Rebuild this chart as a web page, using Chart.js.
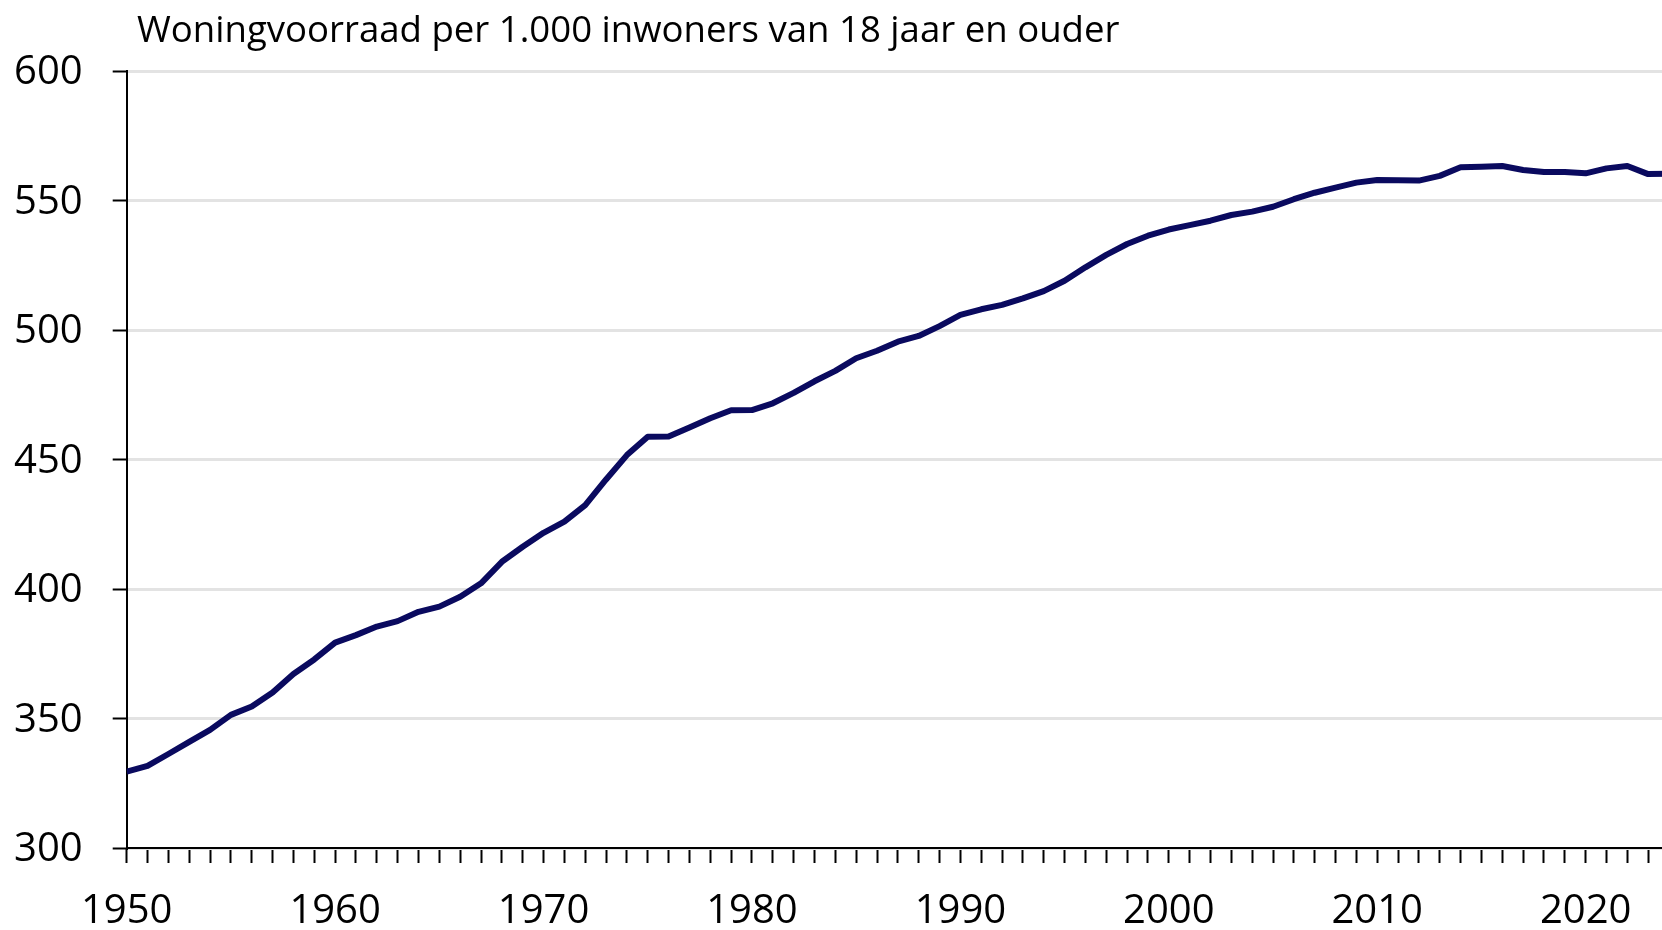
<!DOCTYPE html>
<html>
<head>
<meta charset="utf-8">
<script src="https://cdn.jsdelivr.net/npm/chart.js@4"></script>
<style>
  html, body { margin: 0; padding: 0; background: #fff; overflow: hidden; width: 1662px; height: 930px; }
  #wrap { position: absolute; left: 0; top: 0; width: 1698px; height: 930px; }
  #title { position: absolute; left: 137px; top: 10px; font-family: "Open Sans", sans-serif; font-size: 36.6px; line-height: 36px; color: #000; white-space: nowrap; z-index: 2; }
</style>
</head>
<body>
<div id="title">Woningvoorraad per 1.000 inwoners van 18 jaar en ouder</div>
<div id="wrap"><canvas id="c" width="1698" height="930" style="width:1698px;height:930px"></canvas></div>
<script>
const years = [1950,1951,1952,1953,1954,1955,1956,1957,1958,1959,
               1960,1961,1962,1963,1964,1965,1966,1967,1968,1969,
               1970,1971,1972,1973,1974,1975,1976,1977,1978,1979,
               1980,1981,1982,1983,1984,1985,1986,1987,1988,1989,
               1990,1991,1992,1993,1994,1995,1996,1997,1998,1999,
               2000,2001,2002,2003,2004,2005,2006,2007,2008,2009,
               2010,2011,2012,2013,2014,2015,2016,2017,2018,2019,
               2020,2021,2022,2023,2024];
const woningvoorraad = [329.5,331.7,336.3,341.0,345.6,351.4,354.6,360.0,367.2,372.8,
                        379.3,382.2,385.5,387.6,391.2,393.2,397.0,402.2,410.5,416.3,
                        421.7,426.0,432.4,442.3,451.7,458.8,458.9,462.4,465.9,469.0,
                        469.1,471.7,475.7,480.2,484.2,489.1,492.0,495.5,497.7,501.5,
                        505.8,508.0,509.7,512.2,515.0,519.0,524.2,529.0,533.2,536.4,
                        538.8,540.5,542.2,544.4,545.7,547.6,550.5,553.0,555.0,556.9,
                        557.9,557.8,557.7,559.5,562.8,563.0,563.3,561.8,561.0,561.0,
                        560.5,562.4,563.3,560.2,560.3];
const yTicks = [300, 350, 400, 450, 500, 550, 600];
const xLabelEvery = 10;

const FONT = "'Open Sans', sans-serif";
const points = years.map((y, i) => ({ x: y, y: woningvoorraad[i] }));

new Chart(document.getElementById('c'), {
  type: 'line',
  data: {
    datasets: [{
      data: points,
      borderColor: '#0a0a5f',
      borderWidth: 6,
      pointRadius: 0,
      tension: 0,
      borderJoinStyle: 'round',
      borderCapStyle: 'butt',
      fill: false
    }]
  },
  options: {
    responsive: false,
    animation: false,
    devicePixelRatio: 1,
    layout: { padding: { left: 0, right: 2.4, top: 71, bottom: 0 } },
    plugins: { legend: { display: false }, tooltip: { enabled: false }, title: { display: false } },
    scales: {
      x: {
        type: 'linear',
        min: years[0],
        max: years[years.length - 1],
        afterFit: (s) => { s.height = 82; },
        border: { color: '#000', width: 2 },
        grid: { drawOnChartArea: false, tickLength: 15, tickColor: '#000', tickWidth: 2 },
        ticks: {
          stepSize: 1,
          autoSkip: false,
          maxRotation: 0,
          minRotation: 0,
          padding: 29,
          color: '#000',
          font: { family: FONT, size: 40, lineHeight: 1 },
          callback: (v) => (v % xLabelEvery === 0 ? String(v) : '')
        }
      },
      y: {
        min: yTicks[0],
        max: yTicks[yTicks.length - 1],
        afterFit: (s) => { s.width = 126.7; },
        afterBuildTicks: (s) => { s.ticks = yTicks.map(v => ({ value: v })); },
        border: { color: '#000', width: 2 },
        grid: { color: '#e3e3e3', lineWidth: 3, tickLength: 14, tickColor: '#000', tickWidth: 2 },
        ticks: {
          padding: 30,
          labelOffset: 2,
          color: '#000',
          font: { family: FONT, size: 40, lineHeight: 1 }
        }
      }
    }
  }
});
</script>
</body>
</html>
